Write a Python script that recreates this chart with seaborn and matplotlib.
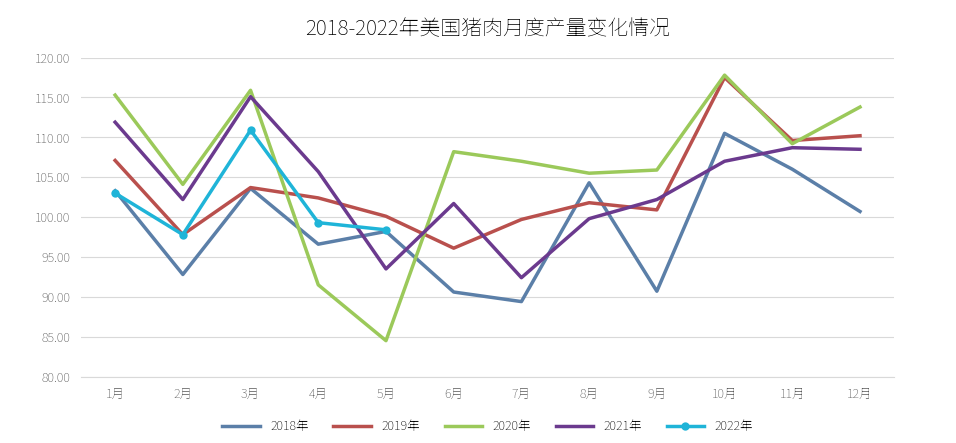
import matplotlib
matplotlib.use("Agg")
import matplotlib.pyplot as plt
from matplotlib import font_manager as fm
import seaborn as sns
import pandas as pd

months = [f"{i}月" for i in range(1, 13)]
y2018 = [103.3, 92.8, 103.6, 96.6, 98.2, 90.6, 89.4, 104.3, 90.7, 110.5, 106.0, 100.7]
y2019 = [107.1, 97.8, 103.7, 102.4, 100.1, 96.1, 99.7, 101.8, 100.9, 117.5, 109.6, 110.2]
y2020 = [115.3, 104.1, 115.9, 91.5, 84.5, 108.2, 107.0, 105.5, 105.9, 117.8, 109.2, 113.8]
y2021 = [111.9, 102.2, 115.1, 105.7, 93.5, 101.7, 92.4, 99.8, 102.2, 107.0, 108.7, 108.5]
y2022 = [103.0, 97.8, 110.9, 99.3, 98.4]

# register CJK font files explicitly
cjk_name = None
for f in fm.findSystemFonts():
    if "NotoSansCJK" in f.replace(" ", "") or "NotoSansSC" in f:
        try:
            fm.fontManager.addfont(f)
            n = fm.FontProperties(fname=f).get_name()
            if cjk_name is None or "SC" in n:
                cjk_name = n
        except Exception:
            pass
plt.rcParams["font.family"] = [cjk_name or "Noto Sans CJK SC", "DejaVu Sans"]
plt.rcParams["font.sans-serif"] = [cjk_name or "Noto Sans CJK SC", "DejaVu Sans"]

fig, ax = plt.subplots(figsize=(9.56, 4.43), dpi=100)
fig.subplots_adjust(left=0.085, right=0.935, top=0.87, bottom=0.15)

series = [("2018年", y2018, "#5b7fa8", None), ("2019年", y2019, "#b9504d", None),
          ("2020年", y2020, "#9bc95a", None), ("2021年", y2021, "#6b3a8e", None),
          ("2022年", y2022, "#1fb4d8", "o")]
for name, vals, c, m in series:
    df = pd.DataFrame({"x": list(range(len(vals))), "y": vals})
    sns.lineplot(data=df, x="x", y="y", ax=ax, color=c, lw=2.5, label=name,
                 marker=m, markersize=6, markeredgewidth=0)

ax.set_xlim(-0.5, 11.5)
ax.set_ylim(80, 120)
ax.set_yticks(range(80, 121, 5))
ax.set_yticklabels([f"{v:.2f}" for v in range(80, 121, 5)], fontsize=9, color="#595959")
ax.set_xticks(range(12))
ax.set_xticklabels(months, fontsize=9, color="#595959")
ax.set_xlabel(""); ax.set_ylabel("")
ax.grid(axis="y", color="#d9d9d9", lw=0.8)
for s in ["top", "right", "left"]:
    ax.spines[s].set_visible(False)
ax.spines["bottom"].set_color("#d9d9d9")
ax.tick_params(length=0, pad=8)
ax.set_title("2018-2022年美国猪肉月度产量变化情况", fontsize=15, fontweight="bold", pad=16)
ax.legend(loc="upper center", bbox_to_anchor=(0.5, -0.1), ncol=5, frameon=False,
          fontsize=9, handlelength=3)
fig.savefig("out.png")
